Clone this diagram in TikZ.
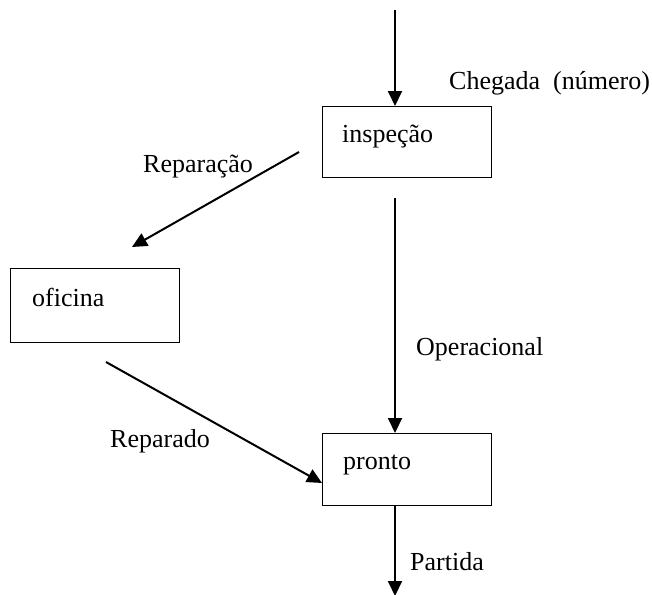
\documentclass[tikz,border=0pt]{standalone}
\usepackage{fontspec}
\setmainfont{Liberation Serif}
\usetikzlibrary{arrows.meta}
\begin{document}
\begin{tikzpicture}[x=1pt,y=-1pt,
  box/.style={draw,line width=1.3pt,rectangle,inner sep=0pt,anchor=north west},
  lbl/.style={anchor=base west,inner sep=0pt,font=\fontsize{26}{30}\selectfont},
  flow/.style={line width=2pt,-{Triangle[length=15pt,width=14pt]}}]
\useasboundingbox (0,0) rectangle (652,594);
% boxes
\node[box,minimum width=169pt,minimum height=71pt] (insp) at (322,106) {};
\node[box,minimum width=169pt,minimum height=74pt] (ofic) at (10,268) {};
\node[box,minimum width=169pt,minimum height=72pt] (pron) at (322,433) {};
% box texts
\node[lbl] (tinsp) at (342,142) {inspeção};
\node[lbl] (tofic) at (32,306) {oficina};
\node[lbl] (tpron) at (343,469) {pronto};
% edge labels
\node[lbl] (lcheg) at (449,89) {Chegada\ \ (número)};
\node[lbl] (lrepc) at (143,172) {Reparação};
\node[lbl] (loper) at (416,355) {Operacional};
\node[lbl] (lrepd) at (110,447) {Reparado};
\node[lbl] (lpart) at (410,570) {Partida};
% coordinates
\coordinate (top) at (395,10);
\coordinate (opstart) at (395,198);
\coordinate (repcstart) at (299,152);
\coordinate (repcend) at (132,247);
\coordinate (repdstart) at (106,362);
\coordinate (repdend) at (322,483);
\coordinate (bottom) at (395,596);
% arrows
\draw[flow] (top) -- (top |- insp.north);
\draw[flow] (opstart) -- (opstart |- pron.north);
\draw[flow] (repcstart) -- (repcend);
\draw[flow] (repdstart) -- (repdend);
\draw[flow] (bottom |- pron.south) -- (bottom);
\end{tikzpicture}
\end{document}
